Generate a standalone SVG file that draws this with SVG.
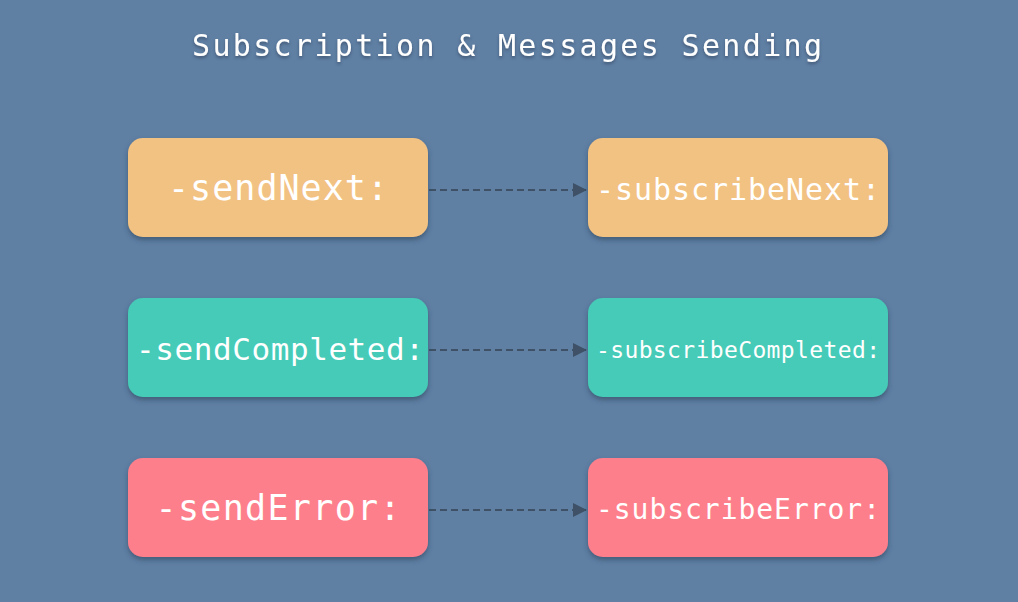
<svg xmlns="http://www.w3.org/2000/svg" width="1018" height="602" viewBox="0 0 1018 602">
<style>
.t{font-family:"DejaVu Sans Mono","Liberation Mono",monospace;fill:#ffffff;text-anchor:middle;dominant-baseline:central}
.c{stroke:#3e5166;stroke-width:2;stroke-dasharray:7 4;fill:none}
.o{fill:#f2c283}.g{fill:#45cbb7}.r{fill:#fd7f8c}
</style>
<defs>
<filter id="sh" x="-10%" y="-20%" width="120%" height="150%">
<feDropShadow dx="0" dy="3" stdDeviation="2.5" flood-color="#2b3e55" flood-opacity="0.55"/>
</filter>
<filter id="tsh" x="-5%" y="-30%" width="110%" height="160%">
<feDropShadow dx="0" dy="2" stdDeviation="1.5" flood-color="#2b3e55" flood-opacity="0.6"/>
</filter>
<marker id="ah" markerWidth="14" markerHeight="14" refX="13" refY="7" orient="auto" markerUnits="userSpaceOnUse">
<path d="M0,0 L14,7 L0,14 Z" fill="#3e5166"/>
</marker>
</defs>
<rect width="1018" height="602" fill="#5f7fa3"/>
<text class="t" x="507" y="45" font-size="30" textLength="630" lengthAdjust="spacing" filter="url(#tsh)">Subscription &amp; Messages Sending</text>
<g id="connectors">
<line class="c" x1="429" y1="190" x2="586" y2="190" marker-end="url(#ah)"/>
<line class="c" x1="429" y1="350" x2="586" y2="350" marker-end="url(#ah)"/>
<line class="c" x1="429" y1="510" x2="586" y2="510" marker-end="url(#ah)"/>
</g>
<g id="sendNext"><rect class="o" x="128" y="138" width="300" height="99" rx="15" filter="url(#sh)"/><text class="t" x="278" y="188" font-size="35" textLength="220" lengthAdjust="spacing">-sendNext:</text></g>
<g id="subscribeNext"><rect class="o" x="588" y="138" width="300" height="99" rx="15" filter="url(#sh)"/><text class="t" x="738" y="189" font-size="30" textLength="284" lengthAdjust="spacing">-subscribeNext:</text></g>
<g id="sendCompleted"><rect class="g" x="128" y="298" width="300" height="99" rx="15" filter="url(#sh)"/><text class="t" x="280" y="349" font-size="31" textLength="288" lengthAdjust="spacing">-sendCompleted:</text></g>
<g id="subscribeCompleted"><rect class="g" x="588" y="298" width="300" height="99" rx="15" filter="url(#sh)"/><text class="t" x="738" y="350" font-size="23" textLength="284" lengthAdjust="spacing">-subscribeCompleted:</text></g>
<g id="sendError"><rect class="r" x="128" y="458" width="300" height="99" rx="15" filter="url(#sh)"/><text class="t" x="278" y="508" font-size="35" textLength="245" lengthAdjust="spacing">-sendError:</text></g>
<g id="subscribeError"><rect class="r" x="588" y="458" width="300" height="99" rx="15" filter="url(#sh)"/><text class="t" x="738" y="509" font-size="28" textLength="284" lengthAdjust="spacing">-subscribeError:</text></g>
</svg>
